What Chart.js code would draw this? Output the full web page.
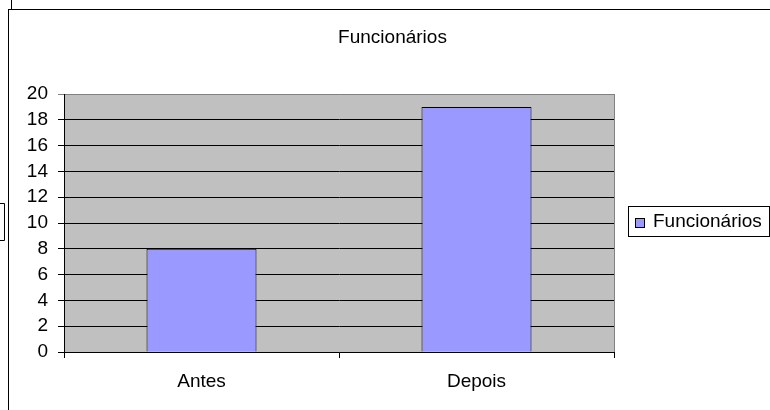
<!DOCTYPE html>
<html>
<head>
<meta charset="utf-8">
<script src="https://cdn.jsdelivr.net/npm/chart.js@4"></script>
<style>
  html, body { margin: 0; padding: 0; background: #ffffff; }
  canvas { display: block; }
</style>
</head>
<body>
<canvas id="c" width="770" height="410"></canvas>
<script>
const chartTitle = "Funcionários";
const categories = ["Antes", "Depois"];
const seriesName = "Funcionários";
const seriesValues = [8, 19];
const yTicks = [0, 2, 4, 6, 8, 10, 12, 14, 16, 18, 20];

const FONT = "'Liberation Sans', Arial, sans-serif";

const decorPlugin = {
  id: 'decor',
  beforeDraw(chart) {
    const ctx = chart.ctx;
    const a = chart.chartArea;
    ctx.save();
    ctx.fillStyle = '#ffffff';
    ctx.fillRect(0, 0, chart.width, chart.height);
    // outer frame pieces
    ctx.strokeStyle = '#000000';
    ctx.lineWidth = 1;
    ctx.beginPath();
    ctx.moveTo(8.5, 9); ctx.lineTo(8.5, chart.height);
    ctx.moveTo(8, 9.5); ctx.lineTo(chart.width, 9.5);
    ctx.moveTo(11.5, 0); ctx.lineTo(11.5, 9);
    // small clipped box at left
    ctx.moveTo(0, 203.5); ctx.lineTo(4.5, 203.5); ctx.lineTo(4.5, 240.5); ctx.lineTo(0, 240.5);
    ctx.stroke();
    // plot background
    ctx.fillStyle = '#C0C0C0';
    ctx.fillRect(a.left, a.top, a.right - a.left, a.bottom - a.top);
    ctx.restore();
  },
  afterDatasetsDraw(chart) {
    const ctx = chart.ctx;
    const a = chart.chartArea;
    ctx.save();
    // right border of plot area
    ctx.strokeStyle = '#808080';
    ctx.lineWidth = 1;
    ctx.beginPath();
    ctx.moveTo(Math.round(a.right) + 0.5, a.top);
    ctx.lineTo(Math.round(a.right) + 0.5, a.bottom);
    ctx.stroke();
    // title
    ctx.fillStyle = '#000000';
    ctx.font = '19px ' + FONT;
    ctx.textAlign = 'center';
    ctx.textBaseline = 'alphabetic';
    ctx.fillText(chartTitle, 392.5, 43);
    // legend
    const ds = chart.data.datasets[0];
    ctx.strokeStyle = '#000000';
    ctx.strokeRect(628.5, 206.5, 141, 30);
    ctx.fillStyle = ds.backgroundColor;
    ctx.fillRect(635.5, 218.5, 9, 9);
    ctx.strokeRect(635.5, 218.5, 9, 9);
    ctx.fillStyle = '#000000';
    ctx.textAlign = 'left';
    ctx.fillText(ds.label, 653, 227);
    ctx.restore();
  }
};

new Chart(document.getElementById('c'), {
  type: 'bar',
  data: {
    labels: categories,
    datasets: [{
      label: seriesName,
      data: seriesValues,
      backgroundColor: '#9999FF',
      borderColor: '#000000',
      borderWidth: 1,
      barPercentage: 0.4,
      categoryPercentage: 1.0
    }]
  },
  options: {
    responsive: false,
    animation: false,
    devicePixelRatio: 1,
    layout: { padding: { left: 10, top: 94, right: 156, bottom: 0 } },
    plugins: {
      legend: { display: false },
      title: { display: false },
      tooltip: { enabled: false }
    },
    scales: {
      x: {
        offset: true,
        grid: {
          offset: true,
          drawOnChartArea: false,
          color: '#000000',
          tickLength: 6,
          lineWidth: 1
        },
        border: { color: '#000000', width: 1 },
        ticks: {
          color: '#000000',
          font: { family: FONT, size: 19 },
          padding: 12,
          maxRotation: 0
        },
        afterFit(scale) { scale.height = 58; }
      },
      y: {
        min: 0,
        max: 20,
        afterBuildTicks(scale) { scale.ticks = yTicks.map(v => ({ value: v })); },
        grid: {
          color: (c) => (c.tick && c.tick.value === 20) ? '#808080' : '#000000',
          tickLength: 6,
          lineWidth: 1
        },
        border: { color: '#000000', width: 1 },
        ticks: {
          color: '#000000',
          font: { family: FONT, size: 19 },
          padding: 10
        },
        afterFit(scale) { scale.width = 54; }
      }
    }
  },
  plugins: [decorPlugin]
});
</script>
</body>
</html>
